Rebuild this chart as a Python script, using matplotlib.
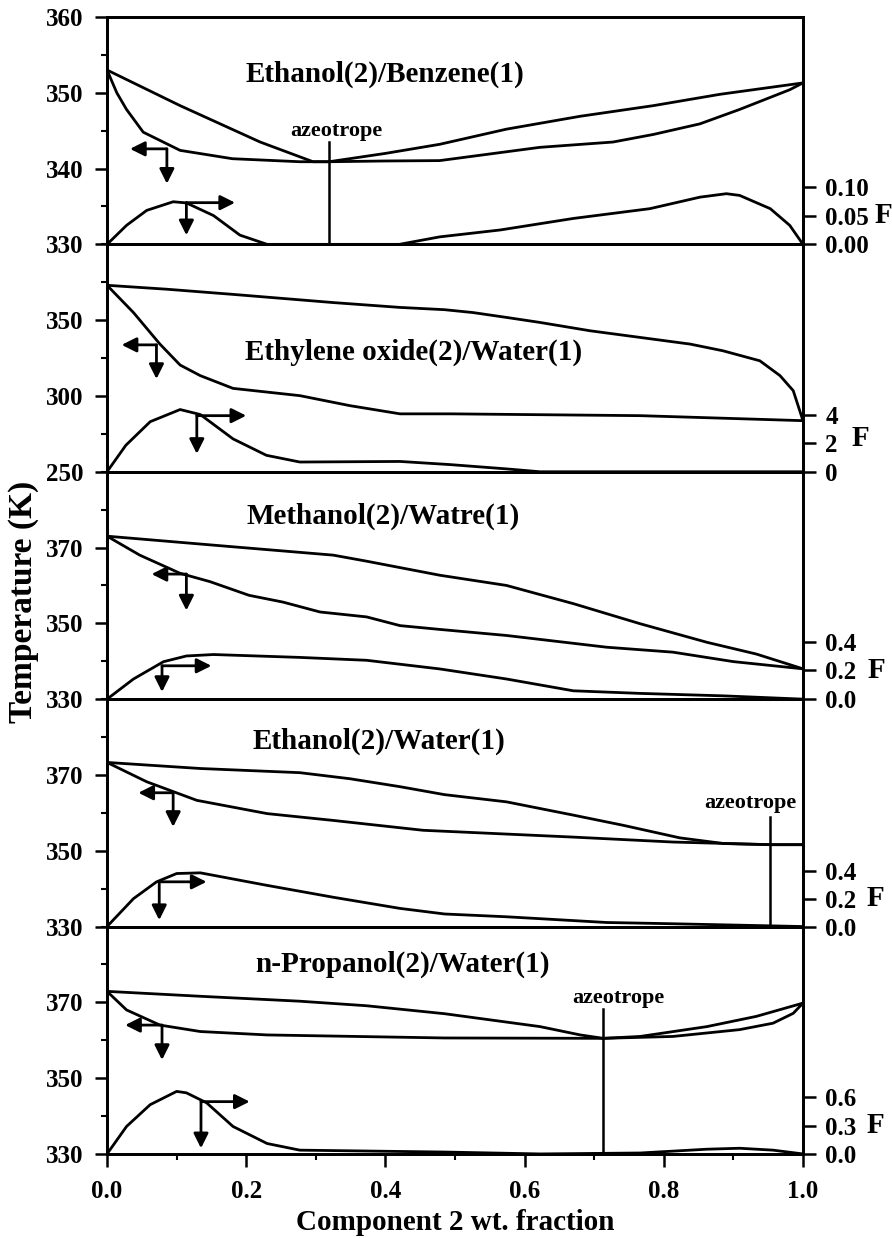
import numpy as np
import matplotlib
matplotlib.use('Agg')
import matplotlib.pyplot as plt
from matplotlib.ticker import MultipleLocator
from matplotlib.transforms import blended_transform_factory

plt.rcParams['font.family'] = ['Liberation Serif', 'DejaVu Serif']
plt.rcParams['font.weight'] = 'bold'
plt.rcParams['axes.labelweight'] = 'bold'

# ---- data ----
# Ethanol(2)/Benzene(1)
eb_dew_x = [0.0, 0.105, 0.22, 0.296, 0.319, 0.40, 0.478, 0.574, 0.68, 0.785, 0.881, 1.0]
eb_dew_T = [353.0, 348.3, 343.5, 340.9, 340.9, 342.0, 343.2, 345.2, 346.9, 348.3, 349.8, 351.3]
eb_bub_x = [0.0, 0.014, 0.028, 0.052, 0.105, 0.18, 0.277, 0.319, 0.40, 0.478, 0.622, 0.727, 0.785, 0.852, 0.909, 0.981, 1.0]
eb_bub_T = [353.0, 350.0, 347.8, 344.8, 342.4, 341.3, 340.9, 340.9, 341.0, 341.05, 342.8, 343.5, 344.5, 345.9, 347.8, 350.4, 351.3]
eb_F_x = [0.0, 0.028, 0.057, 0.095, 0.114, 0.153, 0.191, 0.23, 0.42, 0.478, 0.565, 0.67, 0.78, 0.852, 0.89, 0.909, 0.953, 0.981, 1.0]
eb_F = [0.0, 0.033, 0.059, 0.074, 0.072, 0.050, 0.016, 0.0, 0.0, 0.013, 0.025, 0.045, 0.062, 0.082, 0.088, 0.085, 0.062, 0.033, 0.0]

# Ethylene oxide(2)/Water(1)
eo_dew_x = [0.0, 0.086, 0.181, 0.325, 0.421, 0.485, 0.526, 0.574, 0.622, 0.694, 0.766, 0.838, 0.885, 0.938, 0.967, 0.986, 1.0]
eo_dew_T = [373.0, 370.4, 367.0, 361.6, 358.4, 356.9, 355.0, 351.8, 348.5, 343.0, 338.6, 334.2, 329.8, 323.2, 313.4, 303.5, 283.7]
eo_bub_x = [0.0, 0.038, 0.076, 0.105, 0.134, 0.181, 0.277, 0.349, 0.421, 0.493, 0.766, 1.0]
eo_bub_T = [373.0, 355.0, 334.2, 320.4, 313.4, 305.0, 300.2, 293.6, 288.2, 288.2, 287.0, 283.7]
eo_F_x = [0.0, 0.027, 0.062, 0.105, 0.134, 0.181, 0.229, 0.277, 0.421, 0.493, 0.574, 0.622, 1.0]
eo_F = [0.0, 1.85, 3.5, 4.35, 4.0, 2.3, 1.15, 0.68, 0.72, 0.5, 0.2, 0.0, 0.0]

# Methanol(2)/Water(1)
mw_dew_x = [0.0, 0.181, 0.325, 0.373, 0.478, 0.574, 0.67, 0.766, 0.862, 0.933, 1.0]
mw_dew_T = [373.0, 370.2, 368.0, 366.4, 362.7, 360.0, 355.2, 349.9, 345.0, 341.9, 338.0]
mw_bub_x = [0.0, 0.047, 0.105, 0.148, 0.204, 0.253, 0.306, 0.373, 0.421, 0.478, 0.574, 0.718, 0.813, 0.9, 1.0]
mw_bub_T = [373.0, 368.0, 363.2, 361.0, 357.4, 355.6, 353.0, 351.7, 349.4, 348.4, 346.8, 343.7, 342.4, 339.9, 338.0]
mw_F_x = [0.0, 0.038, 0.081, 0.114, 0.153, 0.277, 0.373, 0.478, 0.574, 0.67, 0.766, 0.885, 1.0]
mw_F = [0.0, 0.14, 0.26, 0.30, 0.31, 0.29, 0.27, 0.21, 0.14, 0.058, 0.04, 0.023, 0.0]

# Ethanol(2)/Water(1)
ew_dew_x = [0.0, 0.134, 0.277, 0.349, 0.421, 0.485, 0.574, 0.67, 0.742, 0.823, 0.886, 0.953, 1.0]
ew_dew_T = [373.3, 371.7, 370.6, 369.0, 366.9, 364.8, 362.9, 359.4, 356.7, 353.4, 351.9, 351.6, 351.6]
ew_bub_x = [0.0, 0.057, 0.129, 0.23, 0.325, 0.454, 0.67, 0.813, 0.953, 1.0]
ew_bub_T = [373.3, 368.2, 363.3, 359.8, 358.0, 355.4, 353.6, 352.3, 351.6, 351.6]
ew_F_x = [0.0, 0.038, 0.071, 0.1, 0.134, 0.23, 0.325, 0.421, 0.485, 0.574, 0.718, 0.813, 1.0]
ew_F = [0.0, 0.2, 0.32, 0.38, 0.385, 0.295, 0.21, 0.13, 0.09, 0.07, 0.029, 0.02, 0.0]

# n-Propanol(2)/Water(1)
pw_dew_x = [0.0, 0.134, 0.277, 0.373, 0.485, 0.622, 0.68, 0.713, 0.766, 0.862, 0.933, 1.0]
pw_dew_T = [372.9, 371.6, 370.3, 369.1, 367.0, 363.6, 361.4, 360.5, 361.0, 363.6, 366.3, 369.8]
pw_bub_x = [0.0, 0.028, 0.076, 0.134, 0.23, 0.485, 0.713, 0.813, 0.909, 0.957, 0.986, 1.0]
pw_bub_T = [372.9, 368.0, 364.0, 362.3, 361.4, 360.6, 360.5, 361.0, 362.8, 364.5, 367.1, 369.8]
pw_F_x = [0.0, 0.028, 0.062, 0.1, 0.114, 0.143, 0.181, 0.23, 0.277, 0.485, 0.622, 0.766, 0.862, 0.909, 0.957, 1.0]
pw_F = [0.0, 0.29, 0.52, 0.66, 0.645, 0.54, 0.29, 0.11, 0.04, 0.02, 0.0, 0.01, 0.05, 0.06, 0.04, 0.0]

titles = ['Ethanol(2)/Benzene(1)', 'Ethylene oxide(2)/Water(1)', 'Methanol(2)/Watre(1)',
          'Ethanol(2)/Water(1)', 'n-Propanol(2)/Water(1)']
title_pos = [(0.40, 352.4), (0.441, 329.0), (0.396, 378.3), (0.391, 379.0), (0.424, 380.0)]

T_lims = [(330, 360), (250, 400), (330, 390), (330, 390), (330, 390)]
T_major = [[330, 340, 350, 360], [250, 300, 350], [330, 350, 370], [330, 350, 370], [330, 350, 370]]
T_minor = [5, 25, 10, 10, 10]
F_lims = [(0, 0.395), (0, 15.9), (0, 1.58), (0, 1.63), (0, 2.4)]
F_ticks = [[0.0, 0.05, 0.10], [0, 2, 4], [0.0, 0.2, 0.4], [0.0, 0.2, 0.4], [0.0, 0.3, 0.6]]
F_fmt = ['%.2f', '%d', '%.1f', '%.1f', '%.1f']
F_label_pos = [(1.103, 0.05), (1.070, 2.3), (1.093, 0.2), (1.092, 0.2), (1.092, 0.3)]

# arrows: (corner x, corner T, tip x, tip T)
left_arrows = [(0.086, 342.6, 0.033, 338.0), (0.071, 333.7, 0.021, 311.2), (0.114, 363.0, 0.064, 353.4),
               (0.095, 365.3, 0.045, 356.3), (0.079, 364.0, 0.026, 354.8)]
right_arrows = [(0.114, 335.5, 0.184, 331.2), (0.129, 287.0, 0.20, 261.8), (0.079, 338.8, 0.15, 331.9),
                (0.075, 341.8, 0.143, 331.7), (0.135, 343.8, 0.205, 331.5)]

# azeotropes: panel index -> (x, top T, label x, label T)
azeo = {0: (0.319, 343.5, 0.33, 345.0), 3: (0.953, 359.0, 0.924, 362.5), 4: (0.713, 368.3, 0.735, 371.2)}

dew = [(eb_dew_x, eb_dew_T), (eo_dew_x, eo_dew_T), (mw_dew_x, mw_dew_T), (ew_dew_x, ew_dew_T), (pw_dew_x, pw_dew_T)]
bub = [(eb_bub_x, eb_bub_T), (eo_bub_x, eo_bub_T), (mw_bub_x, mw_bub_T), (ew_bub_x, ew_bub_T), (pw_bub_x, pw_bub_T)]
ffun = [(eb_F_x, eb_F), (eo_F_x, eo_F), (mw_F_x, mw_F), (ew_F_x, ew_F), (pw_F_x, pw_F)]

lw = 2.0
arrow_kw = dict(arrowstyle='-|>', color='black', lw=lw, mutation_scale=22, shrinkA=0, shrinkB=0)

fig, axes = plt.subplots(5, 1, figsize=(8.92, 12.38), dpi=100, sharex=True)
fig.subplots_adjust(left=0.12, right=0.9002, top=0.9863, bottom=0.0679, hspace=0)

for i, ax in enumerate(axes):
    ax.plot(dew[i][0], dew[i][1], color='black', lw=lw)
    ax.plot(bub[i][0], bub[i][1], color='black', lw=lw)
    ax.set_xlim(0, 1)
    ax.set_ylim(*T_lims[i])
    ax.set_yticks(T_major[i])
    ax.yaxis.set_minor_locator(MultipleLocator(T_minor[i]))
    ax.tick_params(axis='y', which='major', direction='out', length=9, width=1.8, labelsize=18, pad=8)
    ax.tick_params(axis='y', which='minor', direction='out', length=4.5, width=1.5)
    for s in ax.spines.values():
        s.set_linewidth(2.0)
    ax.text(title_pos[i][0], title_pos[i][1], titles[i], fontsize=21, ha='center', va='center')

    cx, cy, tx, ty = left_arrows[i]
    ax.annotate('', xy=(tx, cy), xytext=(cx, cy), arrowprops=arrow_kw)
    ax.annotate('', xy=(cx, ty), xytext=(cx, cy), arrowprops=arrow_kw)
    cx, cy, tx, ty = right_arrows[i]
    ax.annotate('', xy=(tx, cy), xytext=(cx, cy), arrowprops=arrow_kw)
    ax.annotate('', xy=(cx, ty), xytext=(cx, cy), arrowprops=arrow_kw)

    if i in azeo:
        ax_x, ax_top, lx, ly = azeo[i]
        ax.plot([ax_x, ax_x], [T_lims[i][0], ax_top], color='black', lw=1.8)
        ax.text(lx, ly, 'azeotrope', fontsize=16, ha='center', va='center')

    tw = ax.twinx()
    tw.plot(ffun[i][0], ffun[i][1], color='black', lw=lw)
    tw.set_ylim(*F_lims[i])
    tw.set_yticks(F_ticks[i])
    tw.set_yticklabels([F_fmt[i] % v for v in F_ticks[i]])
    tw.tick_params(axis='y', direction='out', length=9, width=1.8, labelsize=18, pad=7)
    for s in tw.spines.values():
        s.set_linewidth(2.0)
    trans = blended_transform_factory(tw.transAxes, tw.transData)
    tw.text(F_label_pos[i][0], F_label_pos[i][1], 'F', transform=trans, fontsize=21, ha='left', va='center')

    if i < 4:
        ax.tick_params(axis='x', which='both', bottom=False, labelbottom=False)

axes[-1].set_xticks([0.0, 0.2, 0.4, 0.6, 0.8, 1.0])
axes[-1].set_xticklabels(['0.0', '0.2', '0.4', '0.6', '0.8', '1.0'])
axes[-1].xaxis.set_minor_locator(MultipleLocator(0.1))
axes[-1].tick_params(axis='x', which='major', direction='out', length=9, width=1.8, labelsize=18, pad=10)
axes[-1].tick_params(axis='x', which='minor', direction='out', length=4.5, width=1.5)
axes[-1].set_xlabel('Component 2 wt. fraction', fontsize=21, fontweight='bold', labelpad=4)

fig.text(0.026, 0.514, 'Temperature (K)', rotation=90, fontsize=24, ha='center', va='center')

fig.savefig('out.png', dpi=100)
